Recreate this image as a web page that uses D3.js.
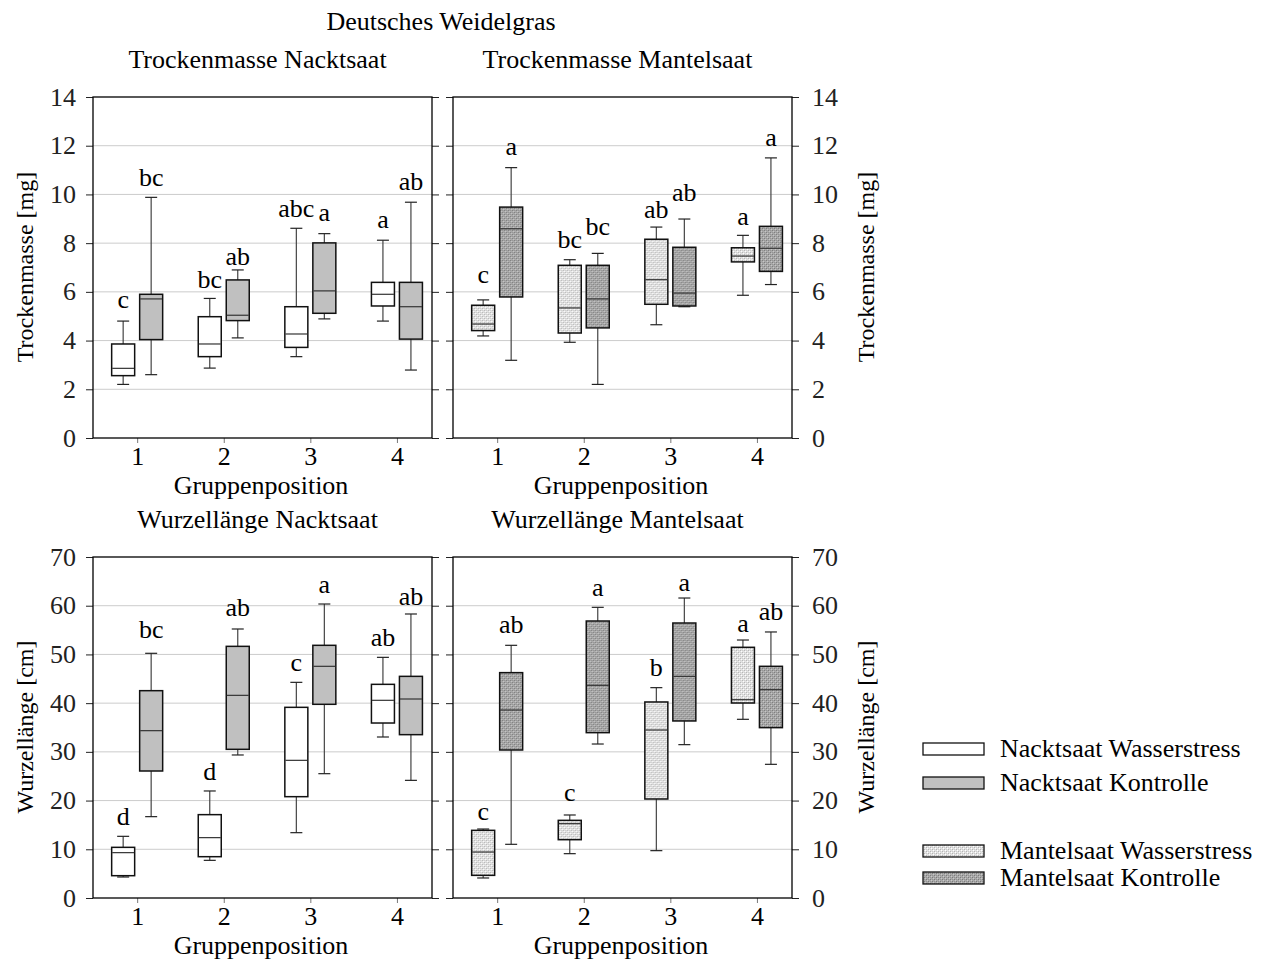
<!DOCTYPE html>
<html lang="de">
<head>
<meta charset="UTF-8">
<title>Deutsches Weidelgras</title>
<script src="https://cdn.jsdelivr.net/npm/d3@7"></script>
<style>
	html,body{margin:0;padding:0;background:#fff;}
	svg{display:block;font-family:"Liberation Serif","Times New Roman",serif;font-size:25px;}
</style>
</head>
<body>
<svg id="svg" width="1274" height="969"></svg>
<script>
// ---- data ----
var groups = [1,2,3,4];
var tmTicks = [0,2,4,6,8,10,12,14];
var wlTicks = [0,10,20,30,40,50,60,70];

// box = [whisker low, q1, median, q3, whisker high]
var tmNacktStress    = [[2.20,2.56,2.86,3.86,4.80],[2.87,3.34,3.86,4.98,5.73],[3.34,3.72,4.27,5.39,8.61],[4.80,5.42,5.90,6.39,8.12]];
var tmNacktKontrolle = [[2.60,4.04,5.71,5.90,9.88],[4.11,4.82,5.04,6.49,6.90],[4.89,5.12,6.04,8.01,8.39],[2.79,4.06,5.39,6.39,9.68]];
var tmMantelStress    = [[4.19,4.41,4.68,5.45,5.67],[3.93,4.31,5.34,7.09,7.32],[4.65,5.49,6.50,8.16,8.66],[5.86,7.23,7.47,7.81,8.32]];
var tmMantelKontrolle = [[3.19,5.79,8.59,9.48,11.10],[2.20,4.52,5.71,7.09,7.58],[5.39,5.42,5.95,7.83,8.99],[6.30,6.84,7.79,8.69,11.50]];

var wlNacktStress    = [[4.31,4.58,9.31,10.40,12.66],[7.73,8.48,12.39,17.11,21.97],[13.41,20.80,28.26,39.14,44.27],[33.05,35.92,40.58,43.86,49.40]];
var wlNacktKontrolle = [[16.70,26.07,34.35,42.56,50.23],[29.36,30.52,41.60,51.66,55.22],[25.52,39.76,47.56,51.87,60.35],[24.15,33.53,40.85,45.50,58.30]];
var wlMantelStress    = [[4.11,4.65,9.44,13.89,14.16],[9.10,11.97,15.26,15.94,17.04],[9.72,20.32,34.49,40.24,43.18],[36.68,40.03,40.71,51.46,52.96]];
var wlMantelKontrolle = [[11.02,30.38,38.59,46.26,51.87],[31.61,33.94,43.66,56.86,59.67],[31.48,36.34,45.50,56.45,61.58],[27.44,34.97,42.77,47.56,54.61]];

// significance letters and where they sit (value units)
var tmNacktStressSig = ["c","bc","abc","a"],   tmNacktStressSigY = [5.34,6.16,9.06,8.62];
var tmNacktKontrolleSig = ["bc","ab","a","ab"], tmNacktKontrolleSigY = [10.33,7.09,8.92,10.20];
var tmMantelStressSig = ["c","bc","ab","a"],   tmMantelStressSigY = [6.36,7.80,9.03,8.76];
var tmMantelKontrolleSig = ["a","bc","ab","a"], tmMantelKontrolleSigY = [11.63,8.35,9.72,11.97];
var wlNacktStressSig = ["d","d","c","ab"],     wlNacktStressSigY = [15.05,24.29,46.53,51.66];
var wlNacktKontrolleSig = ["bc","ab","a","ab"], wlNacktKontrolleSigY = [53.37,57.82,62.61,60.22];
var wlMantelStressSig = ["c","c","b","a"],     wlMantelStressSigY = [16.08,19.84,45.50,54.54];
var wlMantelKontrolleSig = ["ab","a","a","ab"], wlMantelKontrolleSigY = [54.40,61.93,62.95,57.14];

var legendLabels = ["Nacktsaat Wasserstress","Nacktsaat Kontrolle","Mantelsaat Wasserstress","Mantelsaat Kontrolle"];

// ---- setup ----
var svg = d3.select("#svg");
var SX = 1.04;          // the original is a little stretched sideways
var PW = 339, PH = 341;

var x = d3.scaleLinear().domain([0.49, 4.405]).range([0, PW]);
var yTM = d3.scaleLinear().domain([0, 14]).range([PH, 0]);
var yWL = d3.scaleLinear().domain([0, 70]).range([PH, 0]);

// dithered fills for the Mantelsaat boxes
function dither(id, base, dots){
	var p = svg.append("defs").append("pattern").attr("id",id)
		.attr("patternUnits","userSpaceOnUse").attr("width",4).attr("height",4);
	p.append("rect").attr("width",4).attr("height",4).attr("fill",base);
	dots.forEach(function(d){
		p.append("rect").attr("x",d[0]).attr("y",d[1]).attr("width",1).attr("height",1).attr("fill",d[2]);
	});
}
dither("mStress", "#e2e2e2", [[0,0,"#ffffff"],[2,2,"#ffffff"],[1,1,"#b4b4b4"],[3,3,"#b4b4b4"],[1,3,"#cccccc"],[3,1,"#cccccc"]]);
dither("mKontrolle", "#a9a9a9", [[0,0,"#c8c8c8"],[2,2,"#c8c8c8"],[1,1,"#7c7c7c"],[3,3,"#7c7c7c"],[1,3,"#939393"],[3,1,"#939393"]]);

var fills = {ns:"#fff", nk:"#c0c0c0", ms:"url(#mStress)", mk:"url(#mKontrolle)"};

function sText(parent, px, py, s, anchor){
	return parent.append("text")
		.attr("transform","translate("+px+","+py+") scale("+SX+",1)")
		.attr("text-anchor", anchor || "middle")
		.text(s);
}

function stretchTicks(g){
	g.attr("font-size",null).attr("font-family",null);
	g.selectAll("text").each(function(){
		var t = d3.select(this);
		var tx = +t.attr("x") || 0, ty = +t.attr("y") || 0;
		t.attr("x",null).attr("y",null)
			.attr("transform","translate("+tx+","+ty+") scale("+SX+",1)");
	});
}

function yLabel(px, cy, s){
	svg.append("text")
		.attr("transform","translate("+px+","+cy+") rotate(-90)")
		.attr("text-anchor","middle")
		.attr("dy","0.35em")
		.attr("font-size",24)
		.text(s);
}

function panel(px, py, y, ticks, title, labelSide, series){
	var g = svg.append("g").attr("transform","translate("+px+","+py+")");

	g.append("g").selectAll("line")
		.data(ticks.slice(1,-1))
		.enter().append("line")
		.attr("x1",0).attr("x2",PW)
		.attr("y1",d=>y(d)).attr("y2",d=>y(d))
		.attr("stroke","#cccccc");

	var la = d3.axisLeft(y).tickValues(ticks).tickSize(7).tickPadding(10);
	var ra = d3.axisRight(y).tickValues(ticks).tickSize(7).tickPadding(13);
	if(labelSide == "left") ra.tickFormat(""); else la.tickFormat("");

	var lg = g.append("g").attr("color","#222").call(la);
	lg.select(".domain").remove();
	stretchTicks(lg);
	var rg = g.append("g").attr("transform","translate("+PW+",0)").attr("color","#222").call(ra);
	rg.select(".domain").remove();
	stretchTicks(rg);
	rg.selectAll("text").attr("text-anchor","start");

	var bg = g.append("g").attr("transform","translate(0,"+PH+")").attr("color","#777")
		.call(d3.axisBottom(x).tickValues(groups).tickSize(5).tickPadding(4).tickFormat(d3.format("d")));
	bg.select(".domain").remove();
	stretchTicks(bg);
	bg.selectAll("text").attr("fill","#000");

	series.forEach(function(s){
		var sg = g.append("g");
		var box = sg.selectAll("g").data(s.data).enter().append("g")
			.attr("transform",(d,i)=>"translate("+(x(groups[i]) + s.dx)+",0)");
		box.append("line")
			.attr("y1",d=>y(d[0])).attr("y2",d=>y(d[4]))
			.attr("stroke","#444").attr("stroke-width",1.2);
		box.append("line").attr("x1",-6).attr("x2",6)
			.attr("y1",d=>y(d[0])).attr("y2",d=>y(d[0]))
			.attr("stroke","#222").attr("stroke-width",1.2);
		box.append("line").attr("x1",-6).attr("x2",6)
			.attr("y1",d=>y(d[4])).attr("y2",d=>y(d[4]))
			.attr("stroke","#222").attr("stroke-width",1.2);
		box.append("rect")
			.attr("x",-11.5).attr("width",23)
			.attr("y",d=>y(d[3])).attr("height",d=>y(d[1]) - y(d[3]))
			.attr("fill",s.fill).attr("stroke","#111").attr("stroke-width",1.5);
		box.append("line").attr("x1",-11).attr("x2",11)
			.attr("y1",d=>y(d[2])).attr("y2",d=>y(d[2]))
			.attr("stroke","#333").attr("stroke-width",1.2);
		box.each(function(d,i){
			sText(d3.select(this), 0, y(s.sigY[i]), s.sig[i]);
		});
	});

	g.append("rect").attr("width",PW).attr("height",PH)
		.attr("fill","none").attr("stroke","#000").attr("stroke-width",1.3);

	sText(g, 164.5, -29, title);
	sText(g, 168, PH + 56, "Gruppenposition");
}

// ---- draw ----
sText(svg, 441, 30, "Deutsches Weidelgras");

panel(93, 97, yTM, tmTicks, "Trockenmasse Nacktsaat", "left", [
	{data:tmNacktStress, fill:fills.ns, dx:-14, sig:tmNacktStressSig, sigY:tmNacktStressSigY},
	{data:tmNacktKontrolle, fill:fills.nk, dx:14, sig:tmNacktKontrolleSig, sigY:tmNacktKontrolleSigY}
]);
panel(453, 97, yTM, tmTicks, "Trockenmasse Mantelsaat", "right", [
	{data:tmMantelStress, fill:fills.ms, dx:-14, sig:tmMantelStressSig, sigY:tmMantelStressSigY},
	{data:tmMantelKontrolle, fill:fills.mk, dx:14, sig:tmMantelKontrolleSig, sigY:tmMantelKontrolleSigY}
]);
panel(93, 557, yWL, wlTicks, "Wurzellänge Nacktsaat", "left", [
	{data:wlNacktStress, fill:fills.ns, dx:-14, sig:wlNacktStressSig, sigY:wlNacktStressSigY},
	{data:wlNacktKontrolle, fill:fills.nk, dx:14, sig:wlNacktKontrolleSig, sigY:wlNacktKontrolleSigY}
]);
panel(453, 557, yWL, wlTicks, "Wurzellänge Mantelsaat", "right", [
	{data:wlMantelStress, fill:fills.ms, dx:-14, sig:wlMantelStressSig, sigY:wlMantelStressSigY},
	{data:wlMantelKontrolle, fill:fills.mk, dx:14, sig:wlMantelKontrolleSig, sigY:wlMantelKontrolleSigY}
]);

yLabel(25, 267, "Trockenmasse [mg]");
yLabel(866, 267, "Trockenmasse [mg]");
yLabel(25, 727, "Wurzellänge [cm]");
yLabel(866, 727, "Wurzellänge [cm]");

// legend
var legend = svg.append("g").attr("transform","translate(923,0)");
var legendFills = [fills.ns, fills.nk, fills.ms, fills.mk];
var legendY = [743, 777, 845, 872];
legendLabels.forEach(function(l,i){
	legend.append("rect").attr("x",0).attr("y",legendY[i]).attr("width",61).attr("height",12)
		.attr("fill",legendFills[i]).attr("stroke","#111").attr("stroke-width",1.3);
	sText(legend, 77, legendY[i] + 14, l, "start");
});
</script>
</body>
</html>
